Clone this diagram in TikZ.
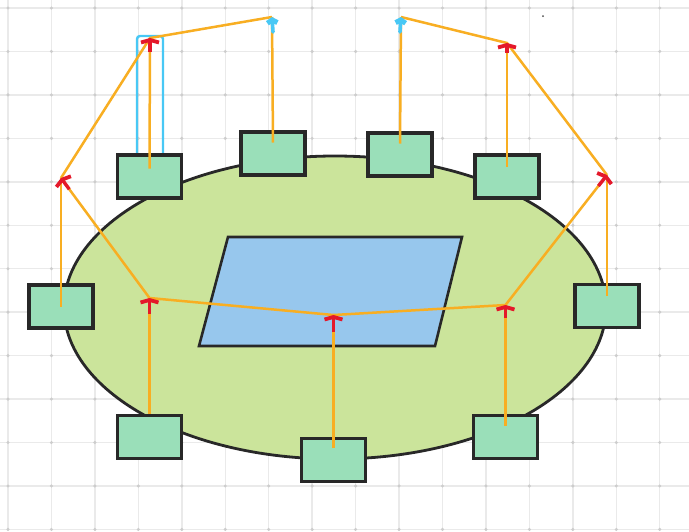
\documentclass[tikz,border=0pt]{standalone}
\usepackage{xcolor}
\usepackage{tikz}
\usetikzlibrary{shapes.geometric, arrows.meta, positioning, calc}
\definecolor{gridcolor}{RGB}{234,234,234}
\definecolor{dotcolor}{RGB}{205,205,205}
\definecolor{fieldcolor}{RGB}{203,228,155}
\definecolor{padcolor}{RGB}{151,199,237}
\definecolor{boxcolor}{RGB}{154,223,185}
\definecolor{edgecolor}{RGB}{40,40,40}
\definecolor{wirecolor}{RGB}{248,174,34}
\definecolor{tipcolor}{RGB}{228,24,42}
\definecolor{markcolor}{RGB}{72,200,245}

\begin{document}
\begin{tikzpicture}[
    x=1pt, y=-1pt,
    gridline/.style={gridcolor, line width=1.4pt},
    unit/.style={draw=edgecolor, line width=3.2pt, fill=boxcolor, minimum width=64pt, minimum height=43pt, inner sep=0pt},
    wire/.style={wirecolor, line width=2.5pt},
    tee/.style={tipcolor, line width=3.4pt, -{Straight Barb[length=2.5pt, width=18pt, line width=3.8pt]}},
    hook/.style={markcolor, line width=3.6pt, line cap=round, -{Straight Barb[length=3pt, width=10pt, line width=5pt]}}
]
    \useasboundingbox[fill=white] (0,0) rectangle (689,531);

    % background grid
    \foreach \i in {0,...,15}
        \draw[gridline] ({8+43.45*\i},0) -- ({8+43.45*\i},531);
    \foreach \j in {0,...,12}
        \draw[gridline] (0,{8+43.45*\j}) -- (689,{8+43.45*\j});
    \foreach \i in {0,...,15}
        \foreach \j in {0,...,12}
            \fill[dotcolor] ({8+43.45*\i},{8+43.45*\j}) circle (1.7pt);
    \fill[black!70] (543,16) circle (1pt);

    \node[ellipse, draw=edgecolor, line width=2.8pt, fill=fieldcolor, inner sep=0pt, minimum width=542pt, minimum height=303pt] (field) at (335,307.5) {};
    \draw[edgecolor, line width=2.6pt, fill=padcolor] (228,237) -- (462,237) -- (435,346) -- (199,346) -- cycle;

    \draw[markcolor, line width=2.4pt, rounded corners=3pt] (137,160) -- (137,36) -- (163,36) -- (163,160);

    \node[unit] (b1) at (149.5,176.5) {};
    \node[unit] (b2) at (273,153.5) {};
    \node[unit] (b3) at (400,154.5) {};
    \node[unit] (b4) at (507,176.5) {};
    \node[unit] (b5) at (61,306.5) {};
    \node[unit] (b6) at (607,306) {};
    \node[unit] (b7) at (149.5,437) {};
    \node[unit] (b8) at (333.5,460) {};
    \node[unit] (b9) at (505.5,437) {};

    \coordinate (jTL) at (150,38);
    \coordinate (jL) at (61,178);
    \coordinate (jLB) at (149.5,298);
    \coordinate (jC) at (333.5,315);
    \coordinate (jRB) at (505.5,305);
    \coordinate (jR) at (607,175);
    \coordinate (jTR) at (507,43);
    \coordinate (cB1) at (272,17);
    \coordinate (cB2) at (401,17);

    \draw[wire] (jL) -- (jTL) -- (cB1);
    \draw[wire] (cB2) -- (jTR) -- (jR);
    \draw[wire] (jR) -- (jRB) -- (jC) -- (jLB) -- (jL);

    \draw[wire] ([yshift=8pt]b1.center) -- (jTL);
    \draw[wire] ([yshift=11pt]b2.center) -- (cB1);
    \draw[wire] ([yshift=11pt]b3.center) -- (cB2);
    \draw[wire] ([yshift=10pt]b4.center) -- (jTR);
    \draw[wire] (b5.center) -- (jL);
    \draw[wire] ([yshift=10pt]b6.center) -- (jR);
    \draw[wire] (b7.north) -- (jLB);
    \draw[wire] ([yshift=12pt]b8.center) -- (jC);
    \draw[wire] ([yshift=11pt]b9.center) -- (jRB);

    % red and blue marks on the bends
    \draw[tee] ($(jTL)+(0,14)$) -- (jTL);
    \draw[tee] ($(jL)!14pt!(jLB)$) -- (jL);
    \draw[tee] ($(jLB)+(0,16)$) -- (jLB);
    \draw[tee] ($(jC)+(0,17)$) -- (jC);
    \draw[tee] ($(jRB)+(0,13)$) -- (jRB);
    \draw[tee] ($(jR)!14pt!(jRB)$) -- (jR);
    \draw[tee] ($(jTR)+(0,10)$) -- (jTR);
    \draw[hook] ($(cB1)+(1,15)$) -- (cB1);
    \draw[hook] ($(cB2)+(-1,15)$) -- (cB2);
\end{tikzpicture}
\end{document}
